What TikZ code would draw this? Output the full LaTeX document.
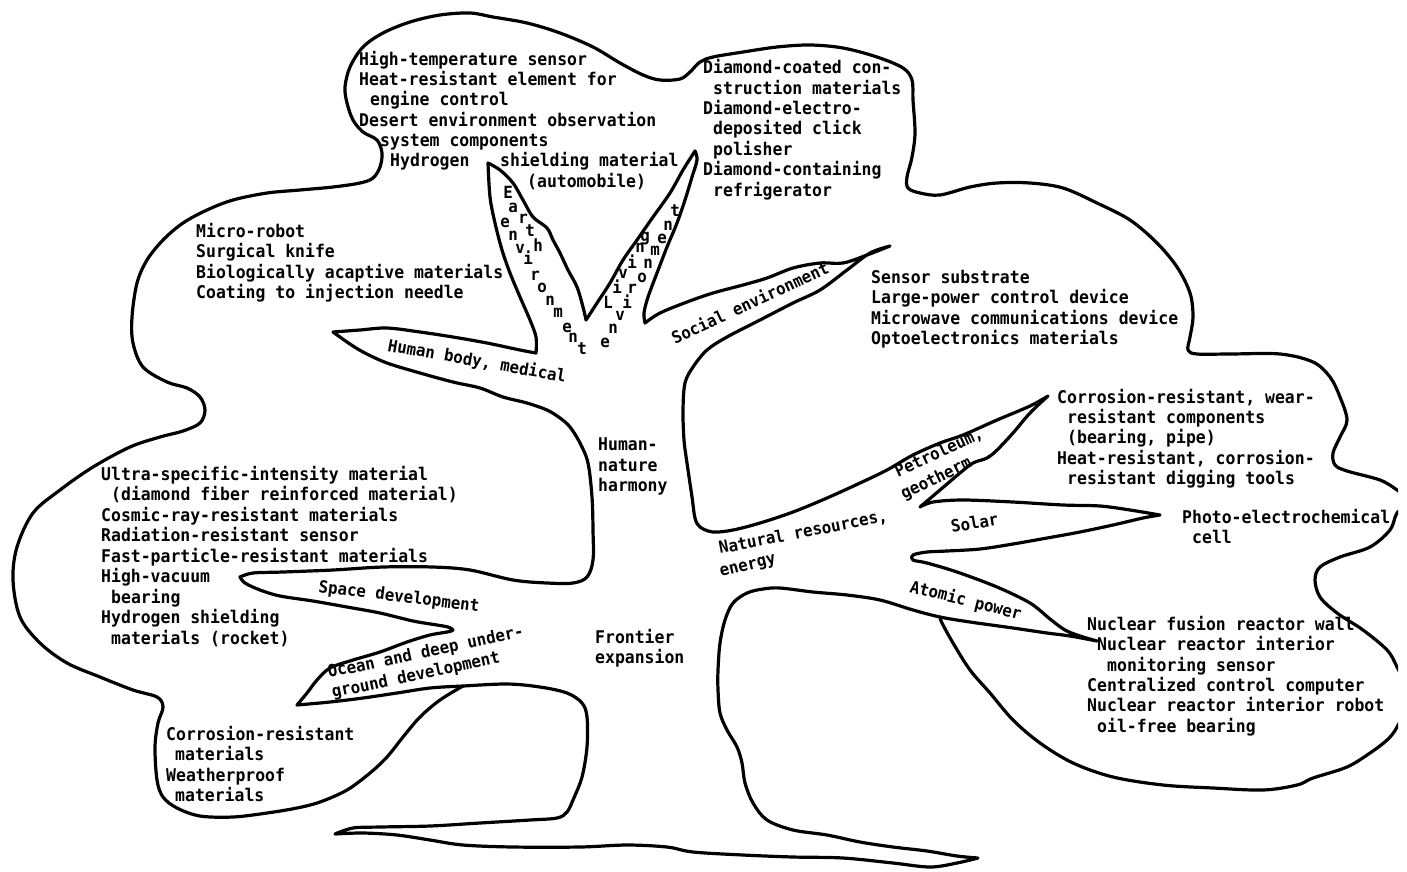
\documentclass[tikz,border=0pt]{standalone}
\usepackage{fontspec}
\newfontfamily\plotfont[FakeStretch=0.94]{DejaVu Sans Mono Bold}
\tikzset{
  outline/.style={line width=3.2pt, line join=round, line cap=round},
  sm/.style={smooth, tension=0.55},
  lbl/.style={anchor=base west, inner sep=0pt, font=\plotfont\fontsize{17.5}{20.4}\selectfont},
  clbl/.style={anchor=base west, inner sep=0pt, font=\plotfont\fontsize{16.8}{20}\selectfont},
  letter/.style={anchor=base, inner sep=0pt, font=\plotfont\fontsize{16.8}{20}\selectfont},
}
\begin{document}
\begin{tikzpicture}[x=1pt,y=-1pt]
\useasboundingbox (0,0) rectangle (1407,871);
% ---------------- tree (trunk, branches, root) ----------------
\draw[outline]
  plot[sm] coordinates {(333,332)(360,330)(387,328)(420,332)(453,337)(487,343)(520,350)(536,353)}
  -- plot[sm] coordinates {(536,353)(536,337)(530,320)(520,297)(510,273)(502,250)(495,223)(490,197)(488,163)}
  -- plot[sm] coordinates {(488,163)(500,170)(513,183)(523,200)(533,217)(547,228)(553,240)(560,253)(568,270)(577,287)(583,307)(586,320)}
  -- plot[sm] coordinates {(586,320)(597,303)(610,283)(623,260)(637,240)(653,217)(670,193)(683,170)(695,151)}
  -- plot[sm] coordinates {(695,151)(697,160)(692,177)(685,200)(677,223)(667,247)(657,273)(648,297)(644,313)(645,323)}
  -- plot[sm] coordinates {(645,323)(660,313)(687,302)(713,293)(743,285)(767,278)(793,268)(820,263)(843,263)(867,255)(890,246)}
  -- plot[sm] coordinates {(890,246)(870,253)(847,270)(820,290)(793,303)(760,320)(727,337)(707,350)(693,367)(685,383)(683,410)(684,440)(687,463)(692,497)(695,518)(700,527)(713,532)(733,530)(760,523)(793,512)(827,498)(860,483)(887,470)(913,455)(940,443)(963,435)(997,420)(1030,406)(1048,396)}
  -- plot[sm] coordinates {(1048,396)(1030,413)(1013,433)(997,450)(987,458)(973,463)(960,473)(940,490)(920,507)}
  -- plot[sm] coordinates {(920,507)(933,502)(963,500)(1013,502)(1063,505)(1100,506)(1130,510)(1160,515)}
  -- plot[sm] coordinates {(1160,515)(1143,518)(1113,525)(1080,532)(1047,538)(1013,544)(980,549)(947,551)(927,552)(913,555)(913,560)(927,563)(957,572)(997,587)(1030,603)(1050,619)(1065,630)(1080,636)(1097,641)}
  -- plot[sm] coordinates {(1097,641)(1070,636)(1047,633)(1013,628)(970,622)(940,617)(913,610)(880,600)(847,595)(813,592)(780,588)(763,589)(747,593)(733,603)(725,620)(720,643)(718,670)(718,690)(720,713)(727,730)(737,747)(742,763)(745,783)(753,803)(767,820)(793,830)(827,835)(860,842)(893,847)(927,851)(957,856)(978,858)}
  -- plot[sm] coordinates {(978,858)(957,863)(930,867)(893,863)(843,858)(793,857)(743,855)(693,852)(667,847)(627,845)(580,847)(513,847)(463,845)(430,840)(397,835)(363,833)(335,834)}
  -- plot[sm] coordinates {(335,834)(353,828)(380,827)(430,826)(480,823)(530,820)(557,818)(567,812)(573,800)(582,777)(587,747)(587,717)(582,703)(567,693)(540,687)(507,684)(463,686)(430,688)(397,693)(363,698)(330,702)(297,705)}
  -- plot[sm] coordinates {(297,705)(307,693)(317,680)(330,668)(353,660)(380,652)(407,642)(430,635)(447,632)(453,630)(448,627)(437,625)(413,621)(380,613)(347,607)(313,601)(280,596)(260,590)(245,583)(240,577)}
  -- plot[sm] coordinates {(240,577)(253,573)(283,572)(333,570)(383,567)(433,567)(470,570)(513,580)(547,583)(573,583)(587,577)(593,560)(593,530)(592,497)(588,463)(580,443)(570,427)(560,418)(547,410)(527,403)(503,397)(480,388)(453,382)(420,373)(387,363)(363,352)(347,342)(333,332)}
  -- cycle;
% ---------------- crown outline ----------------
\begin{scope}
\clip (-10,-10) rectangle (1398,900);
\draw[outline] plot[sm] coordinates {(463,686)(440,700)(420,717)(403,737)(387,757)(370,773)(347,790)(320,802)(297,808)(267,813)(233,817)(200,816)(177,808)(163,797)(157,780)(155,747)(158,723)(163,707)(157,697)(133,690)(100,677)(67,663)(40,643)(20,617)(13,580)(17,547)(33,513)(60,490)(93,467)(130,447)(160,437)(183,431)(200,423)(205,410)(200,397)(187,388)(167,382)(143,367)(133,343)(132,317)(137,283)(147,260)(163,240)(183,223)(207,210)(233,200)(267,193)(300,190)(333,187)(360,183)(373,178)(380,167)(382,153)(377,140)(363,132)(353,120)(347,103)(345,87)(350,67)(363,47)(383,33)(410,22)(440,15)(470,13)(493,17)(527,23)(560,33)(593,47)(620,63)(643,75)(660,80)(680,79)(690,72)(700,62)(713,57)(743,52)(777,47)(810,45)(843,48)(877,57)(903,68)(912,80)(913,100)(915,133)(912,157)(907,177)(908,188)(920,193)(940,195)(970,187)(997,183)(1030,183)(1063,188)(1097,203)(1130,220)(1157,243)(1177,267)(1190,293)(1193,317)(1190,337)(1188,350)(1197,354)(1230,354)(1280,354)(1313,362)(1330,377)(1340,397)(1347,420)(1340,437)(1333,453)(1335,465)(1347,471)(1380,480)(1397,490)(1410,501)(1397,513)(1390,530)(1370,547)(1340,557)(1320,567)(1315,580)(1320,597)(1337,613)(1363,630)(1387,650)(1397,667)(1410,697)(1397,727)(1387,740)(1370,753)(1347,767)(1313,778)(1297,785)(1263,790)(1213,788)(1163,785)(1113,777)(1073,763)(1040,743)(1013,720)(990,693)(970,670)(953,643)(942,623)(940,617)};
\end{scope}
% ---------------- text blocks ----------------
\node[lbl] (ht1) at (359,65) {High-temperature sensor};
\node[lbl] (ht2) at (359,85) {Heat-resistant element for};
\node[lbl] (ht3) at (370,105) {engine control};
\node[lbl] (ht4) at (359,126) {Desert environment observation};
\node[lbl] (ht5) at (380,146) {system components};
\node[lbl] (ht6) at (390,166) {Hydrogen};
\node[lbl] (ht7) at (500,166) {shielding material};
\node[lbl] (ht8) at (527,187) {(automobile)};

\node[lbl] (dm1) at (703,73) {Diamond-coated con-};
\node[lbl] (dm2) at (713,94) {struction materials};
\node[lbl] (dm3) at (703,114) {Diamond-electro-};
\node[lbl] (dm4) at (713,134) {deposited click};
\node[lbl] (dm5) at (713,155) {polisher};
\node[lbl] (dm6) at (703,175) {Diamond-containing};
\node[lbl] (dm7) at (713,196) {refrigerator};

\node[lbl] (mr1) at (196,237) {Micro-robot};
\node[lbl] (mr2) at (196,257) {Surgical knife};
\node[lbl] (mr3) at (196,278) {Biologically acaptive materials};
\node[lbl] (mr4) at (196,298) {Coating to injection needle};

\node[lbl] (ss1) at (871,283) {Sensor substrate};
\node[lbl] (ss2) at (871,303) {Large-power control device};
\node[lbl] (ss3) at (871,324) {Microwave communications device};
\node[lbl] (ss4) at (871,344) {Optoelectronics materials};

\node[lbl] (cr1) at (1057,403) {Corrosion-resistant, wear-};
\node[lbl] (cr2) at (1067,423) {resistant components};
\node[lbl] (cr3) at (1067,443) {(bearing, pipe)};
\node[lbl] (cr4) at (1057,464) {Heat-resistant, corrosion-};
\node[lbl] (cr5) at (1067,484) {resistant digging tools};

\node[lbl] (pe1) at (1182,523) {Photo-electrochemical};
\node[lbl] (pe2) at (1192,543) {cell};

\node[lbl] (nu1) at (1087,630) {Nuclear fusion reactor wall};
\node[lbl] (nu2) at (1097,650) {Nuclear reactor interior};
\node[lbl] (nu3) at (1107,671) {monitoring sensor};
\node[lbl] (nu4) at (1087,691) {Centralized control computer};
\node[lbl] (nu5) at (1087,711) {Nuclear reactor interior robot};
\node[lbl] (nu6) at (1097,732) {oil-free bearing};

\node[lbl] (us1) at (101,480) {Ultra-specific-intensity material};
\node[lbl] (us2) at (111,500) {(diamond fiber reinforced material)};
\node[lbl] (us3) at (101,521) {Cosmic-ray-resistant materials};
\node[lbl] (us4) at (101,541) {Radiation-resistant sensor};
\node[lbl] (us5) at (101,562) {Fast-particle-resistant materials};
\node[lbl] (us6) at (101,582) {High-vacuum};
\node[lbl] (us7) at (111,603) {bearing};
\node[lbl] (us8) at (101,623) {Hydrogen shielding};
\node[lbl] (us9) at (111,644) {materials (rocket)};

\node[lbl] (cl1) at (166,740) {Corrosion-resistant};
\node[lbl] (cl2) at (175,760) {materials};
\node[lbl] (cl3) at (166,781) {Weatherproof};
\node[lbl] (cl4) at (175,801) {materials};

\node[lbl] (hn1) at (598,450) {Human-};
\node[lbl] (hn2) at (598,471) {nature};
\node[lbl] (hn3) at (598,491) {harmony};

\node[lbl] (fe1) at (595,643) {Frontier};
\node[lbl] (fe2) at (595,663) {expansion};

% ---------------- branch labels ----------------
\node[clbl, rotate=-10] (hb) at (387,351) {Human body, medical};
\node[clbl, rotate=25] (se) at (675,345) {Social environment};
\node[clbl, rotate=11] (nr1) at (720,554) {Natural resources,};
\node[clbl, rotate=14] (nr2) at (721,577) {energy};
\node[clbl, rotate=25] (pg1) at (898,478) {Petroleum,};
\node[clbl, rotate=26] (pg2) at (904,500) {geotherm};
\node[clbl, rotate=10] (so) at (952,533) {Solar};
\node[clbl, rotate=-14] (ap) at (909,592) {Atomic power};
\node[clbl, rotate=-7] (sd) at (318,592) {Space development};
\node[clbl, rotate=12] (oc1) at (329,678) {Ocean and deep under-};
\node[clbl, rotate=12] (oc2) at (333,698) {ground development};

\foreach \ch/\x/\y [count=\i] in {E/508/198, a/513/212, r/523/223, t/530/236, h/538/251,
  e/505/227, n/513/240, v/520/253, i/528/264, r/535/280, o/542/292, n/550/305, m/558/317, e/567/332, n/573/342, t/582/354}
  \node[letter] (ea\i) at (\x,\y) {\ch};
\foreach \ch/\x/\y [count=\i] in {L/608/308, i/617/293, v/623/278, i/632/268, n/640/252, g/645/241,
  e/605/347, n/613/333, v/620/320, i/627/308, r/632/293, o/642/282, n/648/268, m/655/255, e/662/243, n/668/230, t/675/216}
  \node[letter] (le\i) at (\x,\y) {\ch};
\end{tikzpicture}
\end{document}
